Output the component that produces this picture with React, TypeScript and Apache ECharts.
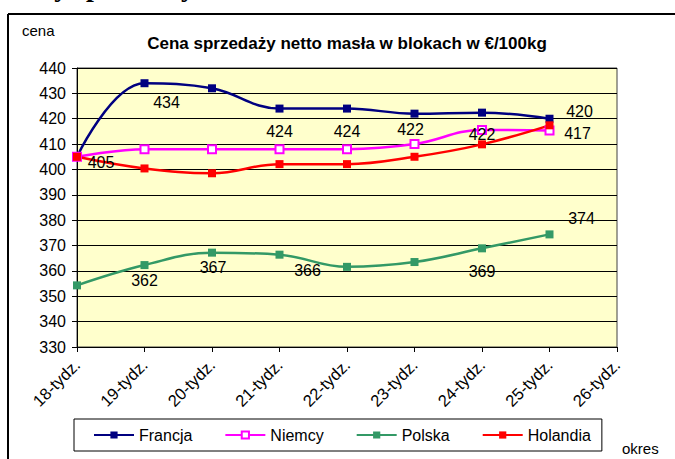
import React, { useEffect, useRef } from "react";
import * as echarts from "echarts";

const categories = [
  "18-tydz.", "19-tydz.", "20-tydz.", "21-tydz.", "22-tydz.",
  "23-tydz.", "24-tydz.", "25-tydz.", "26-tydz.",
];
const francja = [405, 434, 432, 424, 424, 422, 422.4, 420, null];
const niemcy = [405, 408, 408, 408, 408, 410, 415.6, 415.4, null];
const polska = [354.3, 362.3, 367.2, 366.4, 361.6, 363.5, 368.9, 374.4, null];
const holandia = [405, 400.4, 398.5, 402.1, 402.1, 405, 409.9, 417.4, null];
const seriesNames = ["Francja", "Niemcy", "Polska", "Holandia"];
const yMin = 330;
const yMax = 440;
const yStep = 10;

// data-label placement (index, dx, dy) relative to the point
const labelPlacement: Record<string, number[][]> = {
  Francja: [[1, 22, 19], [3, 0, 23], [4, 0, 23], [5, -4, 16], [6, 0, 22], [7, 30, -7]],
  Niemcy: [],
  Polska: [[1, 0, 15], [2, 1, 15], [3, 28, 16], [6, 0, 23], [7, 32, -16]],
  Holandia: [[0, 24, 6], [7, 28, 8]],
};

const colors: Record<string, string> = {
  Francja: "#000080",
  Niemcy: "#FF00FF",
  Polska: "#339966",
  Holandia: "#FF0000",
};

const FONT = "Arial, 'Liberation Sans', sans-serif";

function buildSeries(name: string, values: (number | null)[]) {
  const places = labelPlacement[name];
  const data = values.map((v, i) => {
    const p = places.find((q) => q[0] === i);
    if (p && v !== null) {
      return {
        value: v,
        label: {
          show: true,
          position: "inside",
          offset: [p[1], p[2]],
          formatter: (x: any) => String(Math.round(x.value)),
          color: "#000",
          fontSize: 16,
          fontFamily: FONT,
        },
      };
    }
    return v;
  });
  const hollow = name === "Niemcy";
  return {
    name,
    type: "line",
    smooth: 0.4,
    data,
    symbol: hollow ? "emptyRect" : "rect",
    symbolSize: 8,
    showSymbol: true,
    lineStyle: { color: colors[name], width: 2.5 },
    itemStyle: {
      color: colors[name],
      borderColor: colors[name],
      borderWidth: hollow ? 1.5 : 0,
    },
    label: { show: false },
    emphasis: { disabled: true },
  };
}

export default function App() {
  const ref = useRef<HTMLDivElement>(null);
  useEffect(() => {
    if (!ref.current) return;
    const chart = echarts.init(ref.current, null, { renderer: "svg" });
    chart.setOption({
      animation: false,
      backgroundColor: "#fff",
      grid: {
        left: 77,
        right: 58,
        top: 68,
        bottom: 112,
        show: true,
        backgroundColor: "#FFFFCC",
        borderColor: "#404040",
        borderWidth: 1,
      },
      legend: {
        left: 74,
        top: 419,
        padding: [8, 11, 8, 19],
        itemGap: 32,
        itemWidth: 40,
        itemHeight: 9,
        borderColor: "#000",
        borderWidth: 1,
        data: seriesNames,
        textStyle: { fontSize: 16, fontFamily: FONT, color: "#000" },
      },
      xAxis: {
        type: "category",
        data: categories,
        boundaryGap: false,
        axisLine: { show: true, lineStyle: { color: "#000", width: 1 } },
        axisTick: { show: true, length: 5, alignWithLabel: true, lineStyle: { color: "#000" } },
        axisLabel: {
          interval: 0,
          rotate: 45,
          margin: 15,
          fontSize: 16.5,
          fontFamily: FONT,
          color: "#000",
        },
        splitLine: { show: false },
      },
      yAxis: {
        type: "value",
        min: yMin,
        max: yMax,
        interval: yStep,
        axisLine: { show: true, lineStyle: { color: "#000", width: 1 } },
        axisTick: { show: true, length: 5, lineStyle: { color: "#000" } },
        axisLabel: { fontSize: 16, fontFamily: FONT, color: "#000", margin: 11 },
        splitLine: { show: true, lineStyle: { color: "#000", width: 1 } },
      },
      series: [
        buildSeries("Francja", francja),
        buildSeries("Niemcy", niemcy),
        buildSeries("Polska", polska),
        buildSeries("Holandia", holandia),
      ],
      graphic: [
        {
          type: "text",
          x: 6,
          y: 0.5,
          style: {
            text: "Ceny sprzedaży",
            font: "bold 28px 'Liberation Serif', 'Times New Roman', serif",
            fill: "#000",
            textVerticalAlign: "bottom",
          },
        },
        {
          type: "line",
          shape: { x1: 8, y1: 14, x2: 675, y2: 14 },
          style: { stroke: "#000", lineWidth: 2 },
        },
        {
          type: "line",
          shape: { x1: 8, y1: 14, x2: 8, y2: 459 },
          style: { stroke: "#000", lineWidth: 2 },
        },
        {
          type: "text",
          x: 22,
          y: 30,
          style: {
            text: "cena",
            font: "15px " + FONT,
            fill: "#000",
            textVerticalAlign: "middle",
          },
        },
        {
          type: "text",
          x: 347,
          y: 43,
          style: {
            text: "Cena sprzedaży netto masła w blokach w €/100kg",
            font: "bold 17px " + FONT,
            fill: "#000",
            textAlign: "center",
            textVerticalAlign: "middle",
          },
        },
        {
          type: "text",
          x: 622,
          y: 448,
          style: {
            text: "okres",
            font: "15px " + FONT,
            fill: "#000",
            textVerticalAlign: "middle",
          },
        },
      ],
    });
    return () => chart.dispose();
  }, []);
  return (
    <div
      ref={ref}
      style={{ position: "fixed", left: 0, top: 0, width: 675, height: 459 }}
    />
  );
}
